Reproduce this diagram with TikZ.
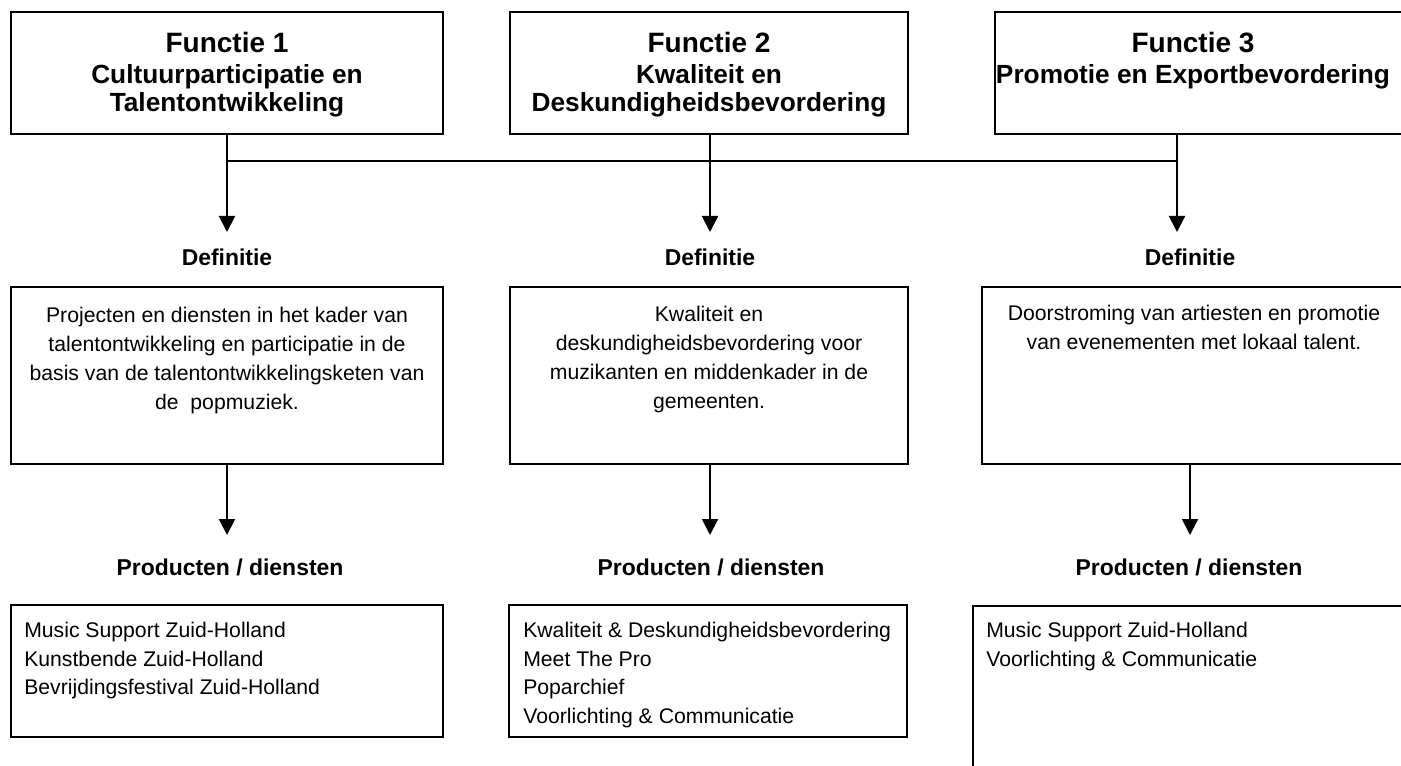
\documentclass[tikz,border=0pt]{standalone}
\usepackage{fontspec}
\setmainfont{Liberation Sans}
\usetikzlibrary{arrows.meta}

\begin{document}
\begin{tikzpicture}[x=0.75pt, y=-0.75pt,
    box/.style={draw, line width=1.5pt, inner sep=0pt},
    line/.style={line width=1.5pt},
    arr/.style={line width=1.5pt, -{Triangle[width=12pt,length=12pt]}},
    head/.style={font=\bfseries\fontsize{17.2}{20}\selectfont, anchor=base, inner sep=0pt},
    functxt/.style={font=\bfseries\fontsize{19.7}{21}\selectfont, align=center, anchor=north, inner sep=0pt},
    deftxt/.style={font=\fontsize{15.9}{21.6}\selectfont, align=center, anchor=north, inner sep=0pt},
    prodtxt/.style={font=\fontsize{15.9}{21.4}\selectfont, align=left, anchor=north west, inner sep=0pt}]
    \clip (0,0) rectangle (1401,766);

    % functies
    \node[box, minimum width=324pt, minimum height=91.5pt] (f1) at (227,73) {};
    \node[box, minimum width=298.5pt, minimum height=91.5pt] (f2) at (709,73) {};
    \node[box, minimum width=307.5pt, minimum height=91.5pt] (f3) at (1200,73) {};
    \node[functxt] (f1t) at (227,32) {{\fontsize{21}{21}\selectfont Functie 1}\\[2.25pt]Cultuurparticipatie en\\Talentontwikkeling};
    \node[functxt] (f2t) at (709,32) {{\fontsize{21}{21}\selectfont Functie 2}\\[2.25pt]Kwaliteit en\\Deskundigheidsbevordering};
    \node[functxt] (f3t) at (1193,32) {{\fontsize{21}{21}\selectfont Functie 3}\\[2.25pt]Promotie en Exportbevordering};

    % definitie
    \node[head] (dh1) at (227,266) {Definitie};
    \node[head] (dh2) at (710,266) {Definitie};
    \node[head] (dh3) at (1190,266) {Definitie};
    \node[box, minimum width=324pt, minimum height=132.75pt] (d1) at (227,375.5) {};
    \node[box, minimum width=298.5pt, minimum height=132.75pt] (d2) at (709,375.5) {};
    \node[box, minimum width=318pt, minimum height=132.75pt] (d3) at (1194,375.5) {};
    \node[deftxt] (d1t) at (227,307) {Projecten en diensten in het kader van\\talentontwikkeling en participatie in de\\basis van de talentontwikkelingsketen van\\de\ \ popmuziek.};
    \node[deftxt] (d2t) at (709,306) {Kwaliteit en\\deskundigheidsbevordering voor\\muzikanten en middenkader in de\\gemeenten.};
    \node[deftxt] (d3t) at (1194,305) {Doorstroming van artiesten en promotie\\van evenementen met lokaal talent.};

    % producten
    \node[head] (ph1) at (230,575) {Producten / diensten};
    \node[head] (ph2) at (711,575) {Producten / diensten};
    \node[head] (ph3) at (1189,575) {Producten / diensten};
    \node[box, minimum width=324pt, minimum height=99pt] (p1) at (227,671) {};
    \node[box, minimum width=298.5pt, minimum height=99pt] (p2) at (708,671) {};
    \node[box, minimum width=324.75pt, minimum height=150pt] (p3) at (1189.5,706) {};
    \node[prodtxt] (p1t) at (24,622) {Music Support Zuid-Holland\\Kunstbende Zuid-Holland\\Bevrijdingsfestival Zuid-Holland};
    \node[prodtxt] (p2t) at (523,622) {Kwaliteit \& Deskundigheidsbevordering\\Meet The Pro\\Poparchief\\Voorlichting \& Communicatie};
    \node[prodtxt] (p3t) at (986,622) {Music Support Zuid-Holland\\Voorlichting \& Communicatie};

    % verbindingen
    \coordinate (a1) at (227,232);
    \coordinate (a2) at (710,232);
    \coordinate (a3) at (1177,232);
    \coordinate (j1) at (227,161);
    \coordinate (j3) at (1177,161);
    \coordinate (b1) at (227,535);
    \coordinate (b2) at (710,535);
    \coordinate (b3) at (1190,535);

    \draw[line] (j1) -- (j3);
    \draw[arr] (f1.south -| a1) -- (a1);
    \draw[arr] (f2.south -| a2) -- (a2);
    \draw[arr] (f3.south -| a3) -- (a3);
    \draw[arr] (d1.south -| b1) -- (b1);
    \draw[arr] (d2.south -| b2) -- (b2);
    \draw[arr] (d3.south -| b3) -- (b3);
\end{tikzpicture}
\end{document}
